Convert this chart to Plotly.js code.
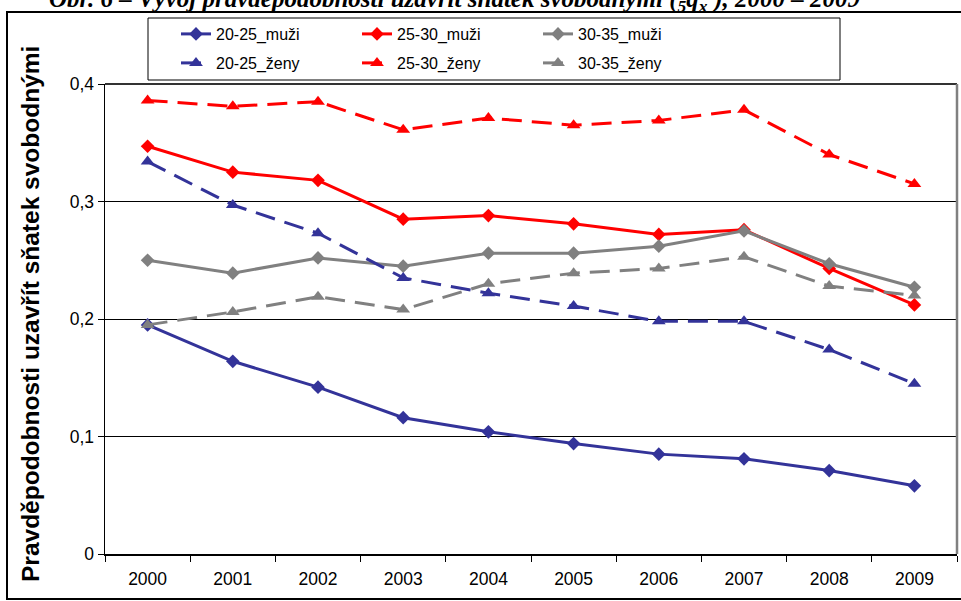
<!DOCTYPE html>
<html>
<head>
<meta charset="utf-8">
<script src="https://cdn.plot.ly/plotly-3.0.1.min.js"></script>
<style>html,body{margin:0;padding:0;background:#fff;}</style>
</head>
<body>
<div id="chart" style="width:961px;height:601px;"></div>
<script>
const years = ["2000","2001","2002","2003","2004","2005","2006","2007","2008","2009"];
const muzi_20_25 = [0.195,0.164,0.142,0.116,0.104,0.094,0.085,0.081,0.071,0.058];
const muzi_25_30 = [0.347,0.325,0.318,0.285,0.288,0.281,0.272,0.276,0.243,0.212];
const muzi_30_35 = [0.250,0.239,0.252,0.245,0.256,0.256,0.262,0.275,0.247,0.227];
const zeny_20_25 = [0.334,0.297,0.273,0.235,0.222,0.211,0.198,0.198,0.174,0.145];
const zeny_25_30 = [0.386,0.381,0.385,0.361,0.371,0.365,0.369,0.378,0.340,0.315];
const zeny_30_35 = [0.195,0.206,0.219,0.208,0.230,0.239,0.243,0.253,0.228,0.220];
const yTicks = [0,0.1,0.2,0.3,0.4];
const yTickText = ["0","0,1","0,2","0,3","0,4"];

const BLUE = "#333399", RED = "#FF0000", GRAY = "#808080";
const DASH = "20px,10px";

function tr(name, y, color, dash, symbol, size, legend) {
  return {
    x: years, y: y, name: name, type: "scatter", mode: "lines+markers",
    line: {color: color, width: 3, dash: dash},
    marker: {symbol: symbol, size: size, color: color},
    legend: legend
  };
}

const data = [
  tr("20-25_muži", muzi_20_25, BLUE, "solid", "diamond", 10.5, "legend"),
  tr("25-30_muži", muzi_25_30, RED, "solid", "diamond", 10.5, "legend"),
  tr("30-35_muži", muzi_30_35, GRAY, "solid", "diamond", 10.5, "legend"),
  tr("20-25_ženy", zeny_20_25, BLUE, DASH, "triangle-up", 12, "legend2"),
  tr("25-30_ženy", zeny_25_30, RED, DASH, "triangle-up", 12, "legend2"),
  tr("30-35_ženy", zeny_30_35, GRAY, DASH, "triangle-up", 12, "legend2")
];

const L = 105, R = 957, T = 84, B = 554;
const W = R - L, H = B - T;
const px = v => (v - L) / W;
const py = v => (B - v) / H;
const FONT = "'Liberation Sans', Arial, sans-serif";

const legendBase = {
  orientation: "h", xanchor: "left", yanchor: "middle",
  entrywidth: 136, entrywidthmode: "pixels",
  bgcolor: "rgba(0,0,0,0)", borderwidth: 0, font: {size: 16, family: FONT}
};

const layout = {
  width: 961, height: 601,
  margin: {l: L, r: 961 - R, t: T, b: 601 - B, pad: 0},
  paper_bgcolor: "#fff", plot_bgcolor: "#fff",
  separators: ", ",
  font: {family: FONT, color: "#000", size: 18},
  showlegend: true,
  xaxis: {
    type: "category", range: [-0.5, 9.5], tickson: "boundaries",
    ticks: "outside", ticklen: 6, tickcolor: "#000", tickwidth: 1,
    showline: true, linecolor: "#000", linewidth: 1.5,
    showgrid: false, zeroline: false, ticklabelstandoff: 8,
    tickfont: {size: 17.5, family: FONT}, fixedrange: true
  },
  yaxis: {
    range: [0, 0.4], tickvals: yTicks, ticktext: yTickText,
    ticks: "outside", ticklen: 6, tickcolor: "#000", tickwidth: 1,
    showline: true, linecolor: "#000", linewidth: 1.5,
    showgrid: true, gridcolor: "#000", gridwidth: 1,
    zeroline: false, tickfont: {size: 17.5, family: FONT}, fixedrange: true
  },
  legend: Object.assign({}, legendBase, {x: px(176), y: py(34)}),
  legend2: Object.assign({}, legendBase, {x: px(176), y: py(63)}),
  shapes: [
    {type: "rect", xref: "paper", yref: "paper", x0: px(7), x1: px(962), y0: py(599), y1: py(12),
     line: {color: "#000", width: 2}, fillcolor: "rgba(0,0,0,0)", layer: "below"},
    {type: "rect", xref: "paper", yref: "paper", x0: px(148), x1: px(840), y0: py(80), y1: py(18),
     line: {color: "#000", width: 1}, fillcolor: "rgba(0,0,0,0)", layer: "below"},
    {type: "line", xref: "paper", yref: "paper", x0: 0, x1: 1, y0: 1, y1: 1,
     line: {color: "#333", width: 2}},
    {type: "line", xref: "paper", yref: "paper", x0: 1, x1: 1, y0: 0, y1: 1,
     line: {color: "#808080", width: 2.5}}
  ],
  annotations: [
    {text: "Pravděpodobnosti uzavřít sňatek svobodnými", textangle: -90,
     xref: "paper", yref: "paper", x: px(30), y: py(314), xanchor: "center", yanchor: "middle",
     showarrow: false, font: {size: 24.5, family: FONT, weight: "bold"}},
    {text: "<b><i>Obr. 6 – Vývoj pravděpodobnosti uzavřít sňatek svobodnými (<sub>5</sub>q<sub>x</sub><sup>s</sup>), 2000 – 2009</i></b>",
     xref: "paper", yref: "paper", x: px(455), y: py(-2), xanchor: "center", yanchor: "middle",
     showarrow: false, font: {size: 25, family: "'Liberation Serif', 'Times New Roman', serif"}}
  ]
};

Plotly.newPlot("chart", data, layout, {displayModeBar: false, staticPlot: true});
</script>
</body>
</html>
